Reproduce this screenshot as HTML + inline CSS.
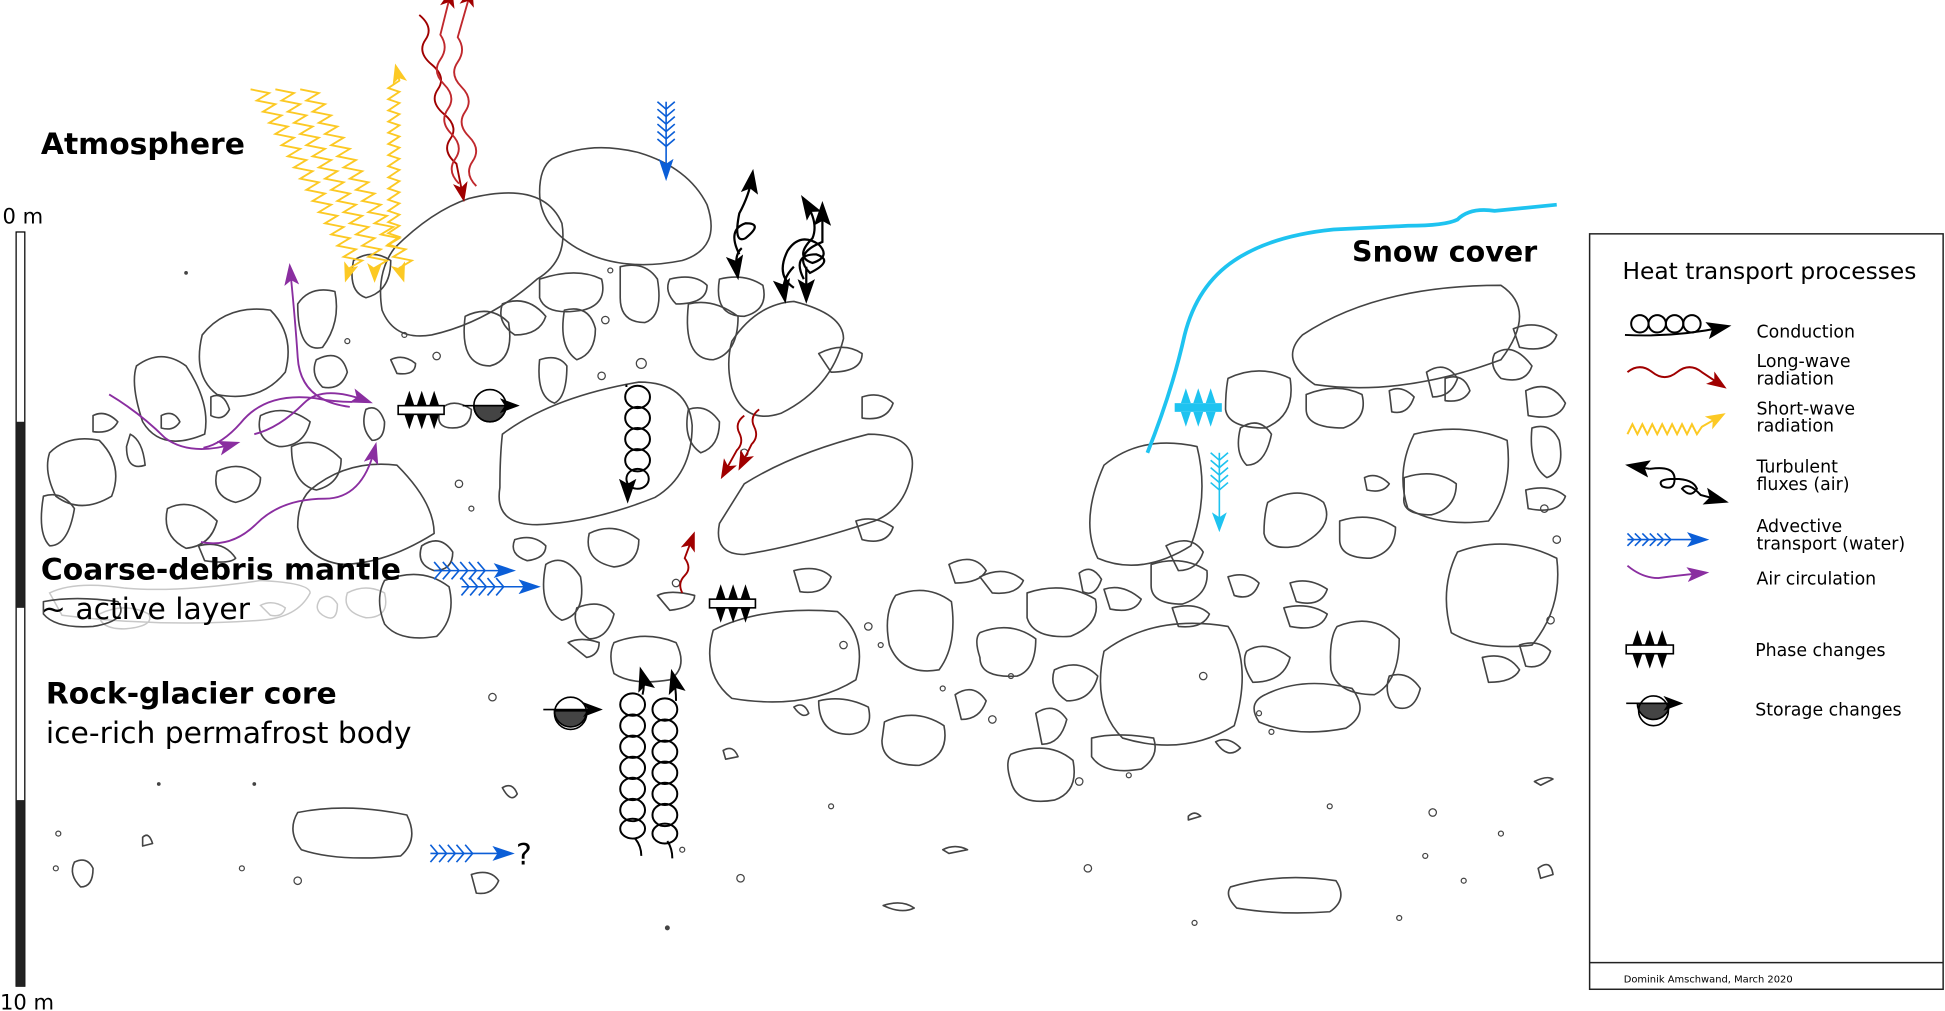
<!DOCTYPE html>
<html><head><meta charset="utf-8"><style>
html,body{margin:0;padding:0;background:#fff;}
svg{display:block;}
text{font-family:"DejaVu Sans","Liberation Sans",sans-serif;fill:#000;}
</style></head><body>
<svg width="1945" height="1011" viewBox="0 0 1568 815" xmlns="http://www.w3.org/2000/svg">
<defs>
<marker id="ab" markerWidth="16" markerHeight="12" refX="10" refY="6" orient="auto" markerUnits="userSpaceOnUse"><path d="M0,0 L16,6 L0,12 L4,6z" fill="#000"/></marker>
<marker id="abL" markerWidth="20" markerHeight="14" refX="12" refY="7" orient="auto" markerUnits="userSpaceOnUse"><path d="M0,0 L20,7 L0,14 L4,7z" fill="#000"/></marker>
<marker id="ar" markerWidth="16" markerHeight="12" refX="10" refY="6" orient="auto" markerUnits="userSpaceOnUse"><path d="M0,0 L16,6 L0,12 L4,6z" fill="#a00000"/></marker>
<marker id="ay" markerWidth="16" markerHeight="12" refX="10" refY="6" orient="auto" markerUnits="userSpaceOnUse"><path d="M0,0 L16,6 L0,12 L4,6z" fill="#fcc924"/></marker>
<marker id="abl" markerWidth="18" markerHeight="12" refX="12" refY="6" orient="auto" markerUnits="userSpaceOnUse"><path d="M0,0 L18,6 L0,12 L4,6z" fill="#0b5ed7"/></marker>
<marker id="ap" markerWidth="18" markerHeight="12" refX="12" refY="6" orient="auto" markerUnits="userSpaceOnUse"><path d="M0,0 L18,6 L0,12 L4,6z" fill="#8a2ea0"/></marker>
<marker id="ac" markerWidth="16" markerHeight="12" refX="10" refY="6" orient="auto" markerUnits="userSpaceOnUse"><path d="M0,0 L16,6 L0,12 L4,6z" fill="#1ec3f0"/></marker>
</defs>

<rect x="13" y="187" width="7" height="608" fill="#fff" stroke="#000" stroke-width="1"/>
<rect x="13" y="340" width="7" height="150" fill="#222"/>
<rect x="13" y="645" width="7" height="150" fill="#222"/>
<text x="2" y="180" font-size="17">0 m</text>
<text x="0" y="814" font-size="17">10 m</text>

<g fill="none" stroke="#c8c8c8" stroke-width="1.2">
<path d="M40,478 q20,-10 60,-4 q40,4 110,-6 q40,2 40,10 q-10,20 -40,22 q-80,6 -160,-4z"/>
<path d="M80,495 q20,-10 40,0 q5,10 -20,12 q-20,0 -20,-12z"/>
<path d="M280,478 q15,-8 30,0 q5,20 -15,20 q-20,-5 -15,-20z"/>
<path d="M258,483 q8,-6 14,4 q0,15 -10,10 q-10,-5 -4,-14z"/>
<path d="M210,488 q10,-5 20,2 q-2,8 -12,6z"/>
</g>

<g fill="none" stroke="#444" stroke-width="1.3" stroke-linejoin="round">
<path d="M445,128 q30,-15 70,-5 q40,12 55,42 q12,35 -20,45 q-50,10 -85,-10 q-30,-18 -30,-45 q0,-20 10,-27z"/>
<path d="M318,200 q30,-30 60,-40 q60,-15 75,20 q5,30 -20,45 q-40,35 -85,45 q-30,5 -40,-20 q-5,-30 10,-50z"/>
<path d="M405,350 q40,-30 110,-42 q40,0 43,35 q0,40 -30,58 q-50,20 -95,22 q-35,0 -30,-30 q0,-25 2,-43z"/>
<path d="M600,390 q40,-25 100,-40 q40,0 35,30 q-5,30 -30,40 q-60,20 -105,27 q-25,0 -20,-25z"/>
<path d="M590,275 q20,-30 50,-32 q40,10 40,30 q-10,40 -50,60 q-30,10 -40,-20 q-5,-20 0,-38z"/>
<path d="M163,270 q20,-25 55,-20 q20,20 12,50 q-20,25 -55,18 q-20,-15 -12,-48z"/>
<path d="M110,295 q20,-15 40,0 q20,30 15,55 q-35,15 -50,-10 q-10,-30 -5,-45z"/>
<path d="M40,365 q15,-15 40,-10 q20,20 10,45 q-25,15 -45,0 q-10,-20 -5,-35z"/>
<path d="M250,395 q30,-25 70,-20 q30,30 30,55 q-40,25 -75,25 q-30,-5 -35,-30 q0,-20 10,-30z"/>
<path d="M575,508 q40,-20 100,-15 q25,20 15,55 q-40,25 -100,15 q-25,-20 -15,-55z"/>
<path d="M890,525 q40,-30 100,-20 q20,30 5,80 q-40,25 -90,10 q-25,-25 -15,-70z"/>
<path d="M890,375 q30,-25 75,-15 q10,40 -5,80 q-40,25 -75,10 q-15,-30 5,-75z"/>
<path d="M1050,270 q60,-40 160,-40 q30,20 0,60 q-80,30 -150,20 q-30,-20 -10,-40z"/>
<path d="M1140,350 q40,-10 75,5 q5,40 -15,65 q-40,5 -65,-10 q-10,-30 5,-60z"/>
<path d="M1175,445 q40,-15 80,5 q5,40 -20,70 q-40,5 -65,-10 q-10,-35 5,-65z"/>
<path d="M1020,560 q30,-15 70,-5 q15,20 -5,32 q-40,8 -70,-5 q-10,-15 5,-22z"/>
<path d="M240,655 q40,-8 88,2 q10,20 -5,33 q-50,5 -80,-5 q-12,-15 -3,-30z"/>
<path d="M992,715 q40,-12 85,-5 q10,15 -5,25 q-40,3 -75,-3 q-10,-10 -5,-17z"/>
<path d="M722,480 q25,-10 45,5 q5,35 -10,55 q-30,5 -40,-20 q-5,-25 5,-40z"/>
<path d="M495,518 q25,-10 50,0 q10,20 -5,30 q-30,5 -45,-5 q-5,-15 0,-25z"/>
<path d="M310,468 q30,-12 52,5 q6,25 -10,40 q-30,5 -42,-10 q-8,-20 0,-35z"/>
<path d="M1078,505 q30,-12 50,10 q0,35 -20,45 q-30,0 -35,-20 q-2,-25 5,-35z"/>
<path d="M1022,405 q25,-15 45,0 q10,20 -20,35 q-25,5 -28,-10 q0,-15 3,-25z"/>
<path d="M990,305 q25,-12 50,0 q5,30 -20,40 q-30,0 -32,-15 q0,-15 2,-25z"/>
<path d="M1053,318 q25,-10 45,0 q5,20 -15,27 q-30,0 -30,-15z"/>
<path d="M815,608 q30,-12 50,5 q5,25 -15,32 q-30,5 -35,-15 q-5,-15 0,-22z"/>
<path d="M713,582 q25,-12 48,3 q5,25 -20,32 q-30,0 -30,-20z"/>
<path d="M790,510 q25,-10 45,5 q0,25 -15,30 q-30,2 -30,-15 q-5,-15 0,-20z"/>
<path d="M828,478 q30,-10 55,5 q5,20 -20,30 q-30,2 -35,-15z"/>
<path d="M928,455 q25,-8 45,5 q2,20 -20,27 q-25,0 -25,-15z"/>
<path d="M1132,385 q25,-8 42,5 q0,20 -20,25 q-25,0 -22,-15z"/>
<path d="M1080,420 q25,-8 45,5 q0,20 -20,25 q-25,0 -25,-15z"/>
<path d="M435,225 q30,-10 50,0 q5,20 -15,25 q-30,5 -35,-10z"/>
<path d="M500,215 q20,-5 30,10 q5,30 -10,35 q-20,0 -20,-20z"/>
<path d="M375,255 q20,-10 35,5 q5,30 -15,35 q-25,0 -20,-40z"/>
<path d="M405,245 q20,-8 35,10 q-5,15 -25,15 q-15,-10 -10,-25z"/>
<path d="M455,250 q20,-5 25,15 q0,20 -15,25 q-15,-10 -10,-40z"/>
<path d="M435,290 q15,-5 22,5 q0,25 -10,30 q-15,-5 -12,-35z"/>
<path d="M540,225 q20,-5 30,5 q0,15 -25,15 q-10,-10 -5,-20z"/>
<path d="M580,225 q20,-5 35,5 q5,20 -15,25 q-25,0 -20,-30z"/>
<path d="M555,245 q20,-5 40,10 q0,30 -20,35 q-25,0 -20,-45z"/>
<path d="M240,245 q10,-15 30,-10 q5,25 -10,45 q-20,5 -20,-35z"/>
<path d="M255,290 q20,-10 25,10 q-5,15 -20,12 q-10,-10 -5,-22z"/>
<path d="M285,210 q15,-10 30,0 q0,25 -20,30 q-15,-5 -10,-30z"/>
<path d="M210,335 q20,-10 40,5 q-5,20 -25,20 q-20,-5 -15,-25z"/>
<path d="M235,360 q20,-10 40,10 q0,20 -20,25 q-20,-5 -20,-35z"/>
<path d="M175,380 q20,-10 35,5 q0,15 -20,20 q-20,-5 -15,-25z"/>
<path d="M135,410 q20,-10 40,10 q-5,20 -25,22 q-20,-10 -15,-32z"/>
<path d="M160,440 q20,-5 30,10 q-5,5 -25,2z"/>
<path d="M35,400 q15,-5 25,10 q-5,30 -20,30 q-10,-10 -5,-40z"/>
<path d="M35,485 q25,-5 60,0 q10,15 -20,20 q-30,2 -40,-10z"/>
<path d="M355,330 q10,-10 25,0 q0,15 -15,15 q-15,0 -10,-15z"/>
<path d="M315,290 q10,-5 20,3 q0,10 -15,8z"/>
<path d="M295,330 q10,-5 15,10 q0,15 -10,15 q-10,-10 -5,-25z"/>
<path d="M340,440 q15,-10 25,5 q0,15 -15,15 q-15,-5 -10,-20z"/>
<path d="M415,435 q15,-5 25,5 q0,10 -15,12 q-15,-5 -10,-17z"/>
<path d="M440,455 q15,-10 28,10 q5,30 -15,35 q-20,-10 -13,-45z"/>
<path d="M475,430 q20,-10 40,5 q0,20 -20,22 q-25,-5 -20,-27z"/>
<path d="M465,490 q20,-8 30,5 q-5,20 -20,20 q-15,-10 -10,-25z"/>
<path d="M458,518 q10,-5 25,0 q0,10 -10,12z"/>
<path d="M530,480 q10,-5 30,0 q0,10 -20,12z"/>
<path d="M555,330 q15,-5 25,10 q0,20 -15,25 q-15,-10 -10,-35z"/>
<path d="M660,285 q20,-10 35,0 q0,15 -25,15z"/>
<path d="M695,320 q15,-5 25,5 q-5,15 -25,12z"/>
<path d="M640,460 q20,-5 30,5 q-5,15 -25,12z"/>
<path d="M690,420 q15,-5 30,5 q-5,15 -25,10z"/>
<path d="M765,455 q20,-10 30,5 q-5,10 -25,10z"/>
<path d="M790,465 q20,-10 35,3 q-5,12 -25,10z"/>
<path d="M870,462 q10,-8 18,5 q-5,15 -15,10z"/>
<path d="M890,475 q15,-5 30,8 q-5,12 -25,8z"/>
<path d="M660,565 q20,-5 40,5 q5,20 -15,22 q-25,0 -25,-27z"/>
<path d="M770,560 q15,-10 25,5 q-5,15 -20,15z"/>
<path d="M835,575 q15,-10 25,5 q-5,20 -20,20z"/>
<path d="M850,540 q20,-10 35,5 q-5,20 -25,20 q-15,-10 -10,-25z"/>
<path d="M880,595 q20,-5 50,0 q5,15 -10,25 q-30,5 -40,-10z"/>
<path d="M940,440 q20,-10 30,5 q-5,15 -20,15z"/>
<path d="M945,490 q20,-5 30,5 q-5,12 -25,10z"/>
<path d="M1040,470 q15,-5 30,5 q-5,15 -25,10z"/>
<path d="M1035,490 q20,-5 35,5 q-5,15 -30,10z"/>
<path d="M1005,525 q15,-10 35,5 q-5,20 -30,20 q-10,-15 -5,-25z"/>
<path d="M990,465 q15,-5 25,5 q-5,15 -20,10z"/>
<path d="M1120,545 q15,-5 25,10 q-5,20 -20,15 q-10,-10 -5,-25z"/>
<path d="M1195,530 q20,-5 30,10 q-5,10 -25,10z"/>
<path d="M1150,300 q15,-10 25,5 q-5,15 -20,15z"/>
<path d="M1205,285 q15,-10 30,10 q-5,15 -25,10 q-10,-10 -5,-20z"/>
<path d="M1220,265 q20,-8 35,5 q-5,15 -30,10z"/>
<path d="M1230,315 q20,-10 32,10 q-5,15 -30,10z"/>
<path d="M1235,345 q15,-5 22,10 q5,25 -10,30 q-15,-10 -12,-40z"/>
<path d="M1230,395 q20,-5 32,5 q-5,15 -30,10z"/>
<path d="M1165,305 q15,-5 20,10 q-5,10 -20,8z"/>
<path d="M1120,315 q10,-5 20,5 q-5,15 -18,12z"/>
<path d="M1100,385 q10,-5 20,5 q-5,8 -18,5z"/>
<path d="M1000,345 q15,-10 25,5 q-5,25 -20,25 q-10,-10 -5,-30z"/>
<path d="M1225,520 q15,-5 25,5 q-5,15 -20,12z"/>
<path d="M1237,630 q10,-5 15,-2 l-10,5z"/>
<path d="M1240,700 q10,-8 12,5 l-10,3z"/>
<path d="M760,685 q10,-5 20,0 l-15,3z"/>
<path d="M712,730 q15,-5 25,2 q-10,5 -25,-2z"/>
<path d="M640,570 q8,-5 12,5 q-5,5 -12,-5z"/>
<path d="M980,598 q10,-5 20,5 q-10,10 -20,-5z"/>
<path d="M60,695 q10,-5 15,5 q0,15 -10,15 q-10,-10 -5,-20z"/>
<path d="M380,705 q15,-5 22,5 q-5,12 -18,10z"/>
<path d="M405,635 q8,-5 12,5 q-5,8 -12,-5z"/>
<path d="M115,675 q5,-5 8,5 l-8,2z"/>
<path d="M958,658 q5,-5 10,0 l-10,3z"/>
<path d="M583,605 q8,-5 12,5 l-10,2z"/>
<path d="M75,335 q10,-5 20,5 q-5,10 -20,8z"/>
<path d="M130,335 q10,-5 15,5 q-5,8 -15,5z"/>
<path d="M170,320 q10,-5 15,10 q-5,10 -15,5z"/>
<path d="M105,350 q10,5 12,25 q-15,5 -15,-15z"/>
</g>
<g fill="none" stroke="#444" stroke-width="1">
<circle cx="492" cy="218" r="2"/><circle cx="488" cy="258" r="3"/><circle cx="517" cy="293" r="4"/><circle cx="485" cy="303" r="3"/><circle cx="370" cy="390" r="3"/><circle cx="380" cy="410" r="2"/><circle cx="352" cy="287" r="3"/><circle cx="280" cy="275" r="2"/><circle cx="326" cy="270" r="2"/><circle cx="600" cy="365" r="3"/><circle cx="545" cy="470" r="3"/><circle cx="700" cy="505" r="3"/><circle cx="710" cy="520" r="2"/><circle cx="815" cy="545" r="2"/><circle cx="970" cy="545" r="3"/><circle cx="1015" cy="575" r="2"/><circle cx="1025" cy="590" r="2"/><circle cx="877" cy="700" r="3"/><circle cx="1149" cy="690" r="2"/><circle cx="1128" cy="740" r="2"/><circle cx="597" cy="708" r="3"/><circle cx="550" cy="685" r="2"/><circle cx="240" cy="710" r="3"/><circle cx="195" cy="700" r="2"/><circle cx="45" cy="700" r="2"/><circle cx="47" cy="672" r="2"/><circle cx="397" cy="562" r="3"/><circle cx="680" cy="520" r="3"/><circle cx="760" cy="555" r="2"/><circle cx="800" cy="580" r="3"/><circle cx="870" cy="630" r="3"/><circle cx="910" cy="625" r="2"/><circle cx="1155" cy="655" r="3"/><circle cx="1180" cy="710" r="2"/><circle cx="1210" cy="672" r="2"/><circle cx="670" cy="650" r="2"/><circle cx="1072" cy="650" r="2"/><circle cx="1250" cy="500" r="3"/><circle cx="1245" cy="410" r="3"/><circle cx="1255" cy="435" r="3"/>
<circle cx="128" cy="632" r="1" fill="#444"/><circle cx="205" cy="632" r="1" fill="#444"/><circle cx="150" cy="220" r="1" fill="#444"/><circle cx="538" cy="748" r="1.5" fill="#444"/><circle cx="963" cy="744" r="2"/>
</g>

<path d="M925,365 q20,-50 30,-95 q10,-40 40,-60 q30,-20 80,-25 l60,-3 q30,0 40,-5 q10,-10 30,-7 q20,-2 50,-5" fill="none" stroke="#1ec3f0" stroke-width="3"/>

<g fill="none" stroke="#fcc924" stroke-width="1.5">
<path d="M202,72 l15,3 l-10,6 l15,3 l-10,6 l15,3 l-10,6 l15,3 l-10,6 l15,3 l-10,6 l15,3 l-10,6 l15,3 l-10,6 l15,3 l-10,6 l15,3 l-10,6 l15,3 l-10,6 l15,3 l-10,6 l15,3 l-10,6 l15,3 l-10,6 l15,3 l-10,6 l15,3 l-10,6 l15,3 l-10,6 l-2,6" marker-end="url(#ay)"/>
<path d="M222,72 l15,3 l-10,6 l15,3 l-10,6 l15,3 l-10,6 l15,3 l-10,6 l15,3 l-10,6 l15,3 l-10,6 l15,3 l-10,6 l15,3 l-10,6 l15,3 l-10,6 l15,3 l-10,6 l15,3 l-10,6 l15,3 l-10,6 l15,3 l-10,6 l15,3 l-10,6 l15,3 l-10,6 l15,3 l-10,6 l0,6" marker-end="url(#ay)"/>
<path d="M242,72 l15,3 l-10,6 l15,3 l-10,6 l15,3 l-10,6 l15,3 l-10,6 l15,3 l-10,6 l15,3 l-10,6 l15,3 l-10,6 l15,3 l-10,6 l15,3 l-10,6 l15,3 l-10,6 l15,3 l-10,6 l15,3 l-10,6 l15,3 l-10,6 l15,3 l-10,6 l15,3 l-10,6 l15,3 l-10,6 l2,6" marker-end="url(#ay)"/>
<path d="M322,200 l-9,-3 l9,-6 l-9,-3 l9,-6 l-9,-3 l9,-6 l-9,-3 l9,-6 l-9,-3 l9,-6 l-9,-3 l9,-6 l-9,-3 l9,-6 l-9,-3 l9,-6 l-9,-3 l9,-6 l-9,-3 l9,-6 l-9,-3 l9,-6 l-9,-3 l9,-6 l-9,-3 l9,-6 l-9,-3 l9,-6 l-9,-3 l9,-6 l-2,-8" marker-end="url(#ay)"/>
</g>

<g fill="none" stroke-width="1.5">
<path d="M338,12 q12,10 5,20 t5,20 t5,20 t5,20 t5,20 t5,20 l5,25" stroke="#a00000" marker-end="url(#ar)"/>
<path d="M370,148 q-10,-10 -3,-20 t-3,-20 t-3,-20 t-3,-20 t-3,-20 t0,-20 l8,-32" stroke="#c0282d" marker-end="url(#ar)"/>
<path d="M384,150 q-10,-10 -3,-20 t-3,-20 t-3,-20 t-3,-20 t-3,-20 t0,-20 l10,-35" stroke="#c0282d" marker-end="url(#ar)"/>
<path d="M600,335 q-8,6 -4,14 t-2,14 l-10,18" stroke="#a00000" marker-end="url(#ar)"/>
<path d="M612,330 q-8,6 -4,14 t-2,14 l-8,16" stroke="#a00000" marker-end="url(#ar)"/>
<path d="M550,478 q-4,-8 2,-14 t0,-14 l6,-16" stroke="#a00000" marker-end="url(#ar)"/>
</g>

<g fill="none" stroke="#0b5ed7" stroke-width="1.3">
<path d="M537,82 v58" marker-end="url(#abl)"/>
<path d="M530,82 l7,6 l7,-6 M530,88 l7,6 l7,-6 M530,94 l7,6 l7,-6 M530,100 l7,6 l7,-6 M530,106 l7,6 l7,-6 M530,112 l7,6 l7,-6"/>
<path d="M350,460 h60" marker-end="url(#abl)"/>
<path d="M350,453 l6,7 l-6,7 M357,453 l6,7 l-6,7 M364,453 l6,7 l-6,7 M371,453 l6,7 l-6,7 M378,453 l6,7 l-6,7 M385,453 l6,7 l-6,7"/>
<path d="M372,473 h58" marker-end="url(#abl)"/>
<path d="M372,466 l6,7 l-6,7 M379,466 l6,7 l-6,7 M386,466 l6,7 l-6,7 M393,466 l6,7 l-6,7 M400,466 l6,7 l-6,7"/>
<path d="M347,688 h62" marker-end="url(#abl)"/>
<path d="M347,681 l6,7 l-6,7 M354,681 l6,7 l-6,7 M361,681 l6,7 l-6,7 M368,681 l6,7 l-6,7 M375,681 l6,7 l-6,7"/>
</g>
<text x="416" y="697" font-size="24">?</text>

<g fill="none" stroke="#1ec3f0" stroke-width="1.3">
<path d="M983,365 v58" marker-end="url(#ac)"/>
<path d="M976,365 l7,6 l7,-6 M976,371 l7,6 l7,-6 M976,377 l7,6 l7,-6 M976,383 l7,6 l7,-6 M976,389 l7,6 l7,-6"/>
</g>
<rect x="947" y="325" width="38" height="7" fill="#1ec3f0"/>
<path d="M952,325 l4,-12 l4,12z M962,325 l4,-12 l4,12z M972,325 l4,-12 l4,12z M952,332 l4,12 l4,-12z M962,332 l4,12 l4,-12z M972,332 l4,12 l4,-12z" fill="#1ec3f0"/>

<g fill="none" stroke="#8a2ea0" stroke-width="1.5">
<path d="M282,328 q-40,-5 -42,-40 q-2,-30 -6,-70" marker-end="url(#ap)"/>
<path d="M222,351 q15,-3 30,-20 q20,-25 60,-20 q15,3 30,3" transform="translate(-58,10)"/>
<path d="M205,350 q20,-5 40,-25 q15,-15 50,-2" marker-end="url(#ap)"/>
<path d="M88,318 q25,15 45,35 q20,15 55,5" marker-end="url(#ap)"/>
<path d="M162,437 q25,5 45,-15 q20,-20 55,-20 q30,0 40,-40" marker-end="url(#ap)"/>
</g>

<g fill="#000">
<rect x="321" y="327" width="37" height="7" fill="#fff" stroke="#000" stroke-width="1.3"/>
<path d="M326,327 l4,-12 l4,12z M336,327 l4,-12 l4,12z M346,327 l4,-12 l4,12z M326,334 l4,12 l4,-12z M336,334 l4,12 l4,-12z M346,334 l4,12 l4,-12z"/>
<rect x="572" y="483" width="37" height="7" fill="#fff" stroke="#000" stroke-width="1.3"/>
<path d="M577,483 l4,-12 l4,12z M587,483 l4,-12 l4,12z M597,483 l4,-12 l4,12z M577,490 l4,12 l4,-12z M587,490 l4,12 l4,-12z M597,490 l4,12 l4,-12z"/>
</g>
<g stroke="#000" stroke-width="1.3">
<path d="M382,327 a13,13 0 0 0 26,0z" fill="#444"/>
<circle cx="395" cy="327" r="13" fill="none"/>
<path d="M373,327 h40" fill="none" marker-end="url(#ab)"/>
<path d="M447,573 a13,13 0 0 0 26,0z" fill="#444"/>
<circle cx="460" cy="575" r="13" fill="none"/>
<path d="M438,572 h42" fill="none" marker-end="url(#ab)"/>
</g>

<!-- conduction coils -->
<g fill="none" stroke="#000" stroke-width="1.6">
<ellipse cx="514" cy="320" rx="10" ry="9"/><ellipse cx="514" cy="337" rx="10" ry="9"/><ellipse cx="514" cy="354" rx="10" ry="9"/><ellipse cx="514" cy="371" rx="10" ry="9"/><ellipse cx="514" cy="386" rx="9" ry="8"/>
<path d="M505,310 v2 M506,390 l0,8" marker-end="url(#abL)"/>
<ellipse cx="510" cy="568" rx="10" ry="9"/><ellipse cx="510" cy="585" rx="10" ry="9"/><ellipse cx="510" cy="602" rx="10" ry="9"/><ellipse cx="510" cy="619" rx="10" ry="9"/><ellipse cx="510" cy="636" rx="10" ry="9"/><ellipse cx="510" cy="653" rx="10" ry="9"/><ellipse cx="510" cy="668" rx="10" ry="8"/>
<path d="M517,690 q0,-8 -5,-14 M518,560 q2,-8 0,-15" marker-end="url(#abL)"/>
<ellipse cx="536" cy="572" rx="10" ry="9"/><ellipse cx="536" cy="589" rx="10" ry="9"/><ellipse cx="536" cy="606" rx="10" ry="9"/><ellipse cx="536" cy="623" rx="10" ry="9"/><ellipse cx="536" cy="640" rx="10" ry="9"/><ellipse cx="536" cy="657" rx="10" ry="9"/><ellipse cx="536" cy="672" rx="10" ry="8"/>
<path d="M542,692 q0,-8 -4,-14 M545,565 q0,-10 -2,-18" marker-end="url(#abL)"/>
</g>

<!-- turbulent -->
<g fill="none" stroke="#000" stroke-width="1.8">
<path d="M596,205 q-10,-20 5,-25 q15,0 0,12 q-10,5 -5,-20 q8,-15 10,-28" marker-end="url(#abL)"/>
<path d="M598,200 q-6,5 -4,18" marker-end="url(#abL)"/>
<path d="M640,232 q-15,-10 -5,-30 q10,-15 25,-5 q10,10 -5,15 q-15,-5 0,-20 q5,-12 -5,-28" marker-end="url(#abL)"/>
<path d="M648,225 q-10,-20 10,-20 q15,5 -5,15 q-15,-15 10,-25 l0,-25" marker-end="url(#abL)"/>
<path d="M640,215 q-10,10 -8,22" marker-end="url(#abL)"/>
<path d="M650,215 q0,10 0,22" marker-end="url(#abL)"/>
</g>

<text x="33" y="124" font-size="24" font-weight="bold">Atmosphere</text>
<text x="33" y="467" font-size="24" font-weight="bold">Coarse-debris mantle</text>
<text x="33" y="499" font-size="24">~ active layer</text>
<text x="37" y="567" font-size="24" font-weight="bold">Rock-glacier core</text>
<text x="37" y="599" font-size="24">ice-rich permafrost body</text>
<text x="1090" y="211" font-size="23" font-weight="bold">Snow cover</text>

<rect x="1281.5" y="188.5" width="285" height="609" fill="none" stroke="#222" stroke-width="1.2"/>
<line x1="1281.5" y1="776" x2="1566.5" y2="776" stroke="#222" stroke-width="1.2"/>
<text x="1308" y="225" font-size="18.8">Heat transport processes</text>
<text x="1416" y="272" font-size="14">Conduction</text>
<text x="1416" y="296" font-size="14">Long-wave</text><text x="1416" y="310" font-size="14">radiation</text>
<text x="1416" y="334" font-size="14">Short-wave</text><text x="1416" y="348" font-size="14">radiation</text>
<text x="1416" y="381" font-size="14">Turbulent</text><text x="1416" y="395" font-size="14">fluxes (air)</text>
<text x="1416" y="429" font-size="14">Advective</text><text x="1416" y="443" font-size="14">transport (water)</text>
<text x="1416" y="471" font-size="14">Air circulation</text>
<text x="1415" y="529" font-size="14">Phase changes</text>
<text x="1415" y="577" font-size="14">Storage changes</text>
<text x="1309" y="792" font-size="8">Dominik Amschwand, March 2020</text>
<g fill="none" stroke-width="1.6">
<g stroke="#000"><circle cx="1322" cy="261" r="7"/><circle cx="1336" cy="261" r="7"/><circle cx="1350" cy="261" r="7"/><circle cx="1364" cy="261" r="7"/></g>
<path d="M1310,270 q40,2 78,-6" stroke="#000" marker-end="url(#abL)"/>
<path d="M1312,300 q10,-8 20,0 t20,0 t20,0 l15,10" stroke="#a00000" marker-end="url(#ar)"/>
<path d="M1312,350 l4,-8 l4,8 l4,-8 l4,8 l4,-8 l4,8 l4,-8 l4,8 l4,-8 l4,8 l4,-8 l4,8 l4,-8 l4,8 l4,-6 l14,-8" stroke="#fcc924" marker-end="url(#ay)"/>
<path d="M1330,378 q20,-3 20,8 q0,10 -10,6 q-5,-6 10,-6 q15,0 18,8 q-5,8 -12,0 q5,-6 15,5 l15,4" stroke="#000" marker-end="url(#abL)"/>
<path d="M1330,378 l-12,-2" stroke="#000" marker-end="url(#abL)"/>
<path d="M1312,435 h60" stroke="#0b5ed7" stroke-width="1.3" marker-end="url(#abl)"/>
<path d="M1312,430 l5,5 l-5,5 M1318,430 l5,5 l-5,5 M1324,430 l5,5 l-5,5 M1330,430 l5,5 l-5,5 M1336,430 l5,5 l-5,5 M1342,430 l5,5 l-5,5" stroke="#0b5ed7" stroke-width="1.3"/>
<path d="M1312,456 q12,10 25,10 q15,-2 35,-4" stroke="#8a2ea0" stroke-width="1.5" marker-end="url(#ap)"/>
</g>
<rect x="1311" y="520" width="38" height="7" fill="#fff" stroke="#000" stroke-width="1.3"/>
<path d="M1316,520 l4,-12 l4,12z M1326,520 l4,-12 l4,12z M1336,520 l4,-12 l4,12z M1316,527 l4,12 l4,-12z M1326,527 l4,12 l4,-12z M1336,527 l4,12 l4,-12z" fill="#000"/>
<path d="M1320,567 a13,13 0 0 0 26,0z" fill="#444" stroke="#000" stroke-width="1.3"/>
<circle cx="1333" cy="573" r="12" fill="none" stroke="#000" stroke-width="1.3"/>
<path d="M1311,567 h40" stroke="#000" stroke-width="1.3" marker-end="url(#ab)"/>
</svg>
</body></html>
